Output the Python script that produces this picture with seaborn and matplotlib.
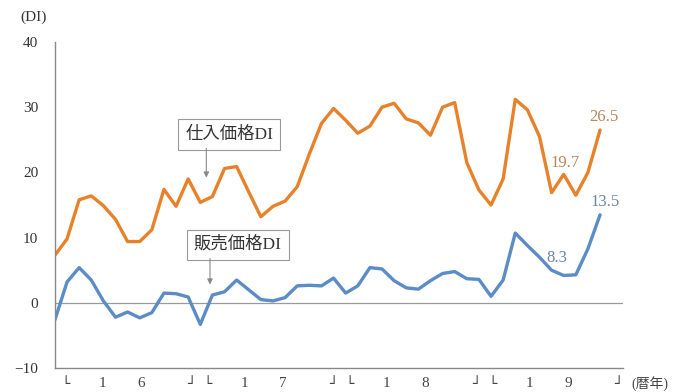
import matplotlib
matplotlib.use("Agg")
import matplotlib.pyplot as plt
import seaborn as sns
import pandas as pd
import numpy as np

# data (monthly)
purchase_di = [7.3, 9.8, 15.8, 16.4, 14.9, 12.8, 9.4, 9.4, 11.2, 17.4, 14.8, 19.0,
               15.4, 16.3, 20.6, 20.9, 17.0, 13.2, 14.8, 15.6, 17.8, 22.8, 27.5, 29.8,
               28.0, 26.0, 27.1, 30.0, 30.6, 28.2, 27.6, 25.7, 30.0, 30.7, 21.5, 17.3,
               15.0, 19.0, 31.2, 29.6, 25.5, 16.9, 19.7, 16.5, 20.0, 26.5]
selling_di = [-2.6, 3.2, 5.4, 3.5, 0.3, -2.2, -1.4, -2.3, -1.5, 1.5, 1.4, 0.9,
              -3.3, 1.2, 1.7, 3.5, 2.0, 0.5, 0.3, 0.8, 2.6, 2.7, 2.6, 3.8,
              1.5, 2.6, 5.4, 5.2, 3.4, 2.3, 2.1, 3.4, 4.5, 4.8, 3.7, 3.6,
              1.0, 3.5, 10.7, 8.8, 7.0, 5.0, 4.2, 4.3, 8.3, 13.5]
years = ["16", "17", "18", "19"]
yticks = [-10, 0, 10, 20, 30, 40]

df = pd.DataFrame({"month": np.arange(len(purchase_di)),
                   "purchase": purchase_di, "selling": selling_di})

sns.set_style("white")
plt.rcParams['font.family'] = ['Liberation Serif', 'Noto Sans CJK JP']

fig = plt.figure(figsize=(6.78, 3.92), dpi=100)
ax = fig.add_axes([0.081, 0.061, 0.838, 0.832])

orange = "#E8822A"
blue = "#5B8CC5"
sns.lineplot(data=df, x="month", y="purchase", ax=ax, color=orange, lw=2.4)
sns.lineplot(data=df, x="month", y="selling", ax=ax, color=blue, lw=2.4)

ax.axhline(0, color="#9a9a9a", lw=0.9, zorder=0)
ax.set_xlim(0, 46.9)
ax.set_ylim(-10, 40)
ax.set_yticks(yticks)
ax.set_yticklabels([("−10" if v < 0 else str(v)) for v in yticks], fontsize=11, color="#333333")
ax.set_xticks(np.arange(0.83, 46.9, 1))
ax.set_xticklabels([])
ax.tick_params(axis="x", direction="in", length=3, color="#888888", width=0.8)
ax.tick_params(axis="y", direction="out", length=3, color="#888888", width=0.8, pad=9)
ax.set_xlabel("")
ax.set_ylabel("")
for s in ["top", "right"]:
    ax.spines[s].set_visible(False)
for s in ["left", "bottom"]:
    ax.spines[s].set_color("#888888")
    ax.spines[s].set_linewidth(1.0)

# year brackets below axis
tc = "#444444"
for k, yr in enumerate(years):
    base = 11.75 * k
    ax.text(base + 0.5, -12.4, "└", ha="left", va="center", fontsize=10, color=tc,
            family=['DejaVu Sans'], clip_on=False)
    ax.text(base + 3.9, -12.4, yr[0], ha="center", va="center", fontsize=11, color=tc, clip_on=False)
    ax.text(base + 7.1, -12.4, yr[1], ha="center", va="center", fontsize=11, color=tc, clip_on=False)
    ax.text(base + 11.6, -12.4, "┘", ha="right", va="center", fontsize=10, color=tc,
            family=['DejaVu Sans'], clip_on=False)
ax.text(47.6, -12.4, "(暦年)", ha="left", va="center", fontsize=10, color=tc, clip_on=False)
fig.text(0.03, 0.955, "(DI)", ha="left", va="center", fontsize=11, color="#333333")

# series annotations
box = dict(boxstyle="square,pad=0.4", fc="white", ec="#999999", lw=0.8)
arrow = dict(arrowstyle="-|>", color="#8a8a8a", lw=0.8, mutation_scale=8, shrinkA=0, shrinkB=0)
ax.text(14.4, 25.8, "仕入価格DI", ha="center", va="center", fontsize=12.5, color="#333333", bbox=box)
ax.annotate("", xy=(12.5, 19.2), xytext=(12.5, 23.7), arrowprops=arrow)
ax.text(15.1, 8.9, "販売価格DI", ha="center", va="center", fontsize=12.5, color="#333333", bbox=box)
ax.annotate("", xy=(12.8, 2.8), xytext=(12.8, 6.8), arrowprops=arrow)

# value labels
ax.text(45.3, 28.5, "26.5", ha="center", va="center", fontsize=12, color="#B8875A")
ax.text(42.1, 21.4, "19.7", ha="center", va="center", fontsize=12, color="#B8875A")
ax.text(41.4, 6.9, "8.3", ha="center", va="center", fontsize=12, color="#6F86A3")
ax.text(45.4, 15.4, "13.5", ha="center", va="center", fontsize=12, color="#6F86A3")

fig.savefig("out.png", dpi=100)
